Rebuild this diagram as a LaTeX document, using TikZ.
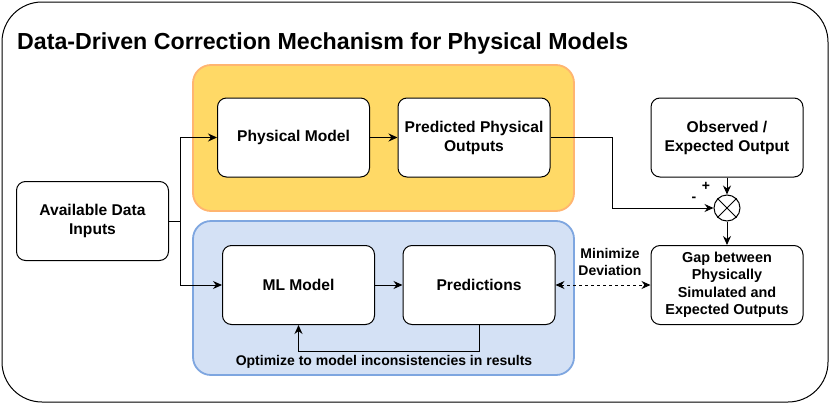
\documentclass[tikz,border=0pt]{standalone}
\usepackage{fontspec}
\setmainfont{Liberation Sans}
\usetikzlibrary{arrows.meta,calc}
\definecolor{grpyellow}{HTML}{FFD966}
\definecolor{grpyellowline}{HTML}{FFB570}
\definecolor{grpblue}{HTML}{D4E1F5}
\definecolor{grpblueline}{HTML}{7EA6E0}
\begin{document}
\begin{tikzpicture}[x=1pt,y=-1pt,
  font=\bfseries\fontsize{15.6}{19}\selectfont,
  box/.style={draw=black, line width=1pt, rounded corners=9pt, fill=white, align=center,
    minimum width=152pt, minimum height=79pt, inner sep=0pt},
  grp/.style={line width=1.8pt, rounded corners=18pt},
  arr/.style={line width=1pt, -{Stealth[length=9pt,width=8pt]}},
  lbl/.style={font=\bfseries\fontsize{14}{17}\selectfont, align=center, inner sep=0pt}]
\useasboundingbox (0,0) rectangle (830,407);
% outer frame
\draw[line width=1pt, rounded corners=40pt, fill=white] (2,2) rectangle (828,402);
\node[anchor=west, inner sep=0pt, font=\bfseries\fontsize{23.2}{27}\selectfont] (title) at (17,43) {Data-Driven Correction Mechanism for Physical Models};
% groups
\draw[grp, draw=grpyellowline, fill=grpyellow] (193,65) rectangle (574,211);
\draw[grp, draw=grpblueline, fill=grpblue] (193,221) rectangle (574,375);
% nodes
\node[box] (phys) at (293.5,137.5) {Physical Model};
\node[box] (pred) at (474,137.5) {Predicted Physical\\Outputs};
\node[box] (obs) at (727,137.5) {Observed /\\Expected Output};
\node[box] (avail) at (92.5,221) {Available Data\\Inputs};
\node[box] (ml) at (298.5,285) {ML Model};
\node[box] (preds) at (479,285) {Predictions};
\node[box, font=\bfseries\fontsize{14.4}{17.5}\selectfont] (gap) at (727,285) {Gap between\\Physically\\Simulated and\\Expected Outputs};
\node[circle, draw=black, line width=1pt, fill=white, minimum size=26pt, inner sep=0pt] (sum) at (727,208) {};
\draw[line width=1pt] (sum.north west) -- (sum.south east) (sum.north east) -- (sum.south west);
% labels
\node[lbl] (plus) at (706,186) {+};
\node[lbl] (minus) at (694,199) {-};
\node[lbl] (minim) at (610,262) {Minimize\\Deviation};
\node[lbl] (optim) at (384,362) {Optimize to model inconsistencies in results};
% connectors
\coordinate (split) at (180,221);
\coordinate (bend) at (612,208);
\draw[arr] (avail.east) -- (split) |- (phys.west);
\draw[arr] (split) |- (ml.west);
\draw[arr] (phys.east) -- (pred.west);
\draw[arr] (pred.east) -| (bend) -- (sum.west);
\draw[arr] (obs.south) -- (sum.north);
\draw[arr] (sum.south) -- (gap.north);
\draw[arr] (ml.east) -- (preds.west);
\draw[arr] (preds.south) -- ++(0,26) -| (ml.south);
\draw[line width=1pt, dashed, {Stealth[length=9pt,width=8pt]}-{Stealth[length=9pt,width=8pt]}] (preds.east) -- (gap.west);
\end{tikzpicture}
\end{document}
